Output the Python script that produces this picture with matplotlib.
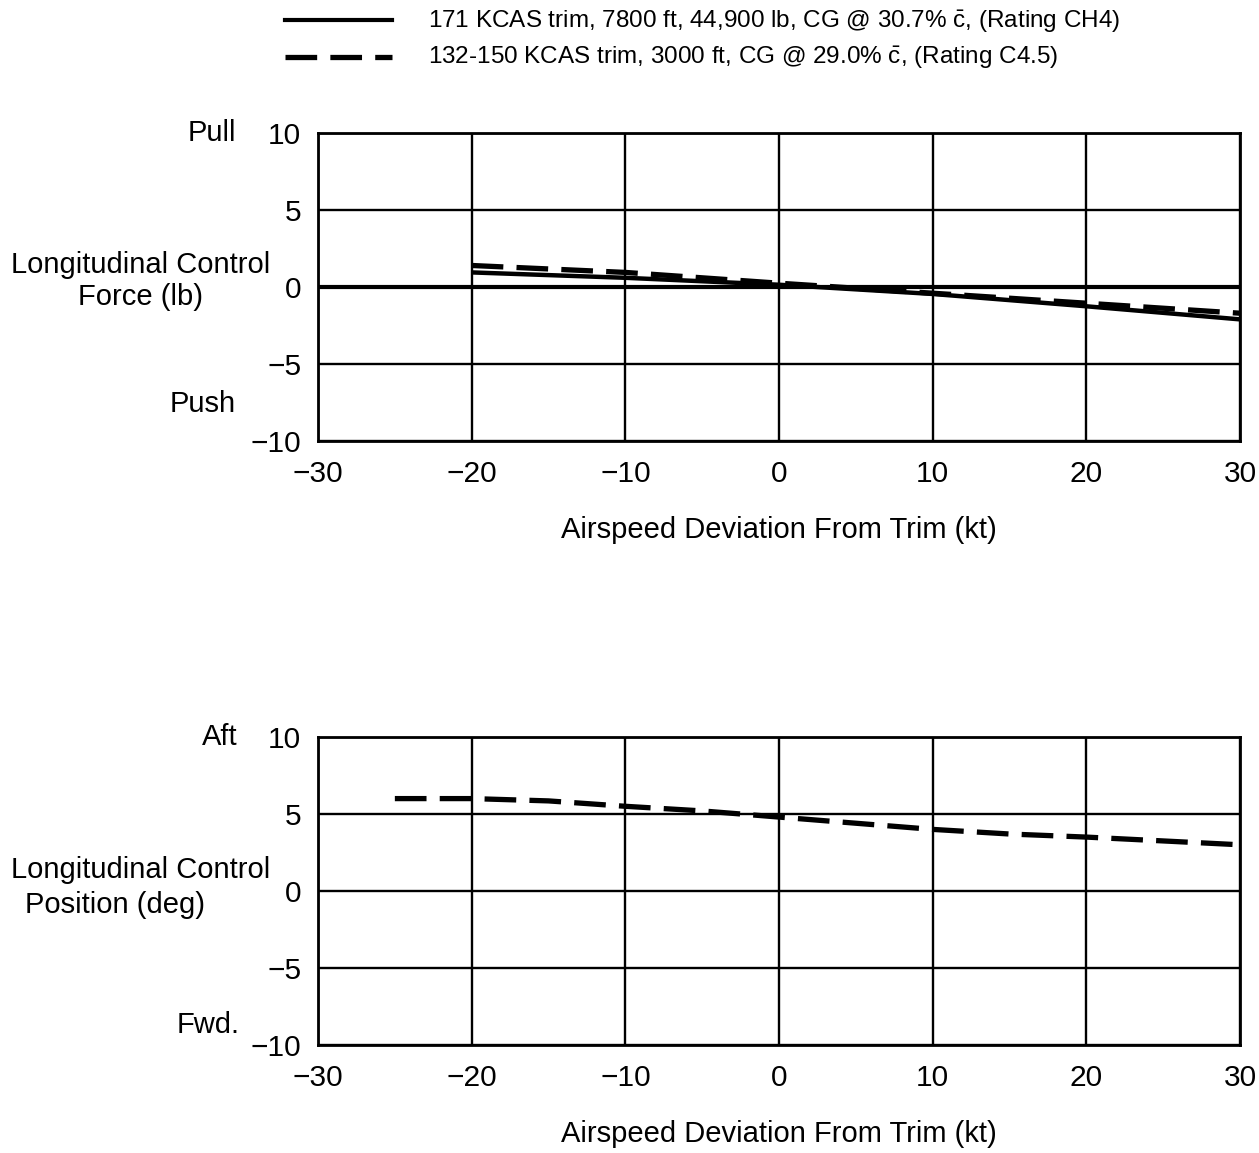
import matplotlib
matplotlib.use("Agg")
import matplotlib.pyplot as plt

plt.rcParams['font.family'] = ['Liberation Sans', 'DejaVu Sans']
plt.rcParams['mathtext.fontset'] = 'custom'
plt.rcParams['mathtext.rm'] = 'Liberation Sans'
plt.rcParams['mathtext.it'] = 'Liberation Sans'

# Data
force_x = [-20, -10, 0, 10, 20, 30]
force_solid = [0.95, 0.6, 0.15, -0.45, -1.25, -2.1]
force_dashed = [1.4, 0.95, 0.25, -0.4, -1.05, -1.7]

pos_x = [-25, -20, -15, -10, -5, 0, 5, 10, 15, 20, 25, 30]
pos_dashed = [6.0, 6.0, 5.85, 5.5, 5.2, 4.8, 4.4, 4.0, 3.7, 3.5, 3.25, 3.0]

xticks = [-30, -20, -10, 0, 10, 20, 30]
yticks = [-10, -5, 0, 5, 10]

legend_labels = [
    r"171 KCAS trim, 7800 ft, 44,900 lb, CG @ 30.7% $\bar{\mathrm{c}}$, (Rating CH4)",
    r"132-150 KCAS trim, 3000 ft, CG @ 29.0% $\bar{\mathrm{c}}$, (Rating C4.5)",
]

fig = plt.figure(figsize=(12.59, 11.53), dpi=100)

FS = 21
TFS = 21.5
DASH = (0, (6, 2.5))

def style(ax):
    ax.set_xlim(-30, 30)
    ax.set_ylim(-10, 10)
    ax.set_xticks(xticks)
    ax.set_yticks(yticks)
    ax.set_xticklabels([str(v).replace('-', '\u2212') for v in xticks], fontsize=TFS)
    ax.set_yticklabels([str(v).replace('-', '\u2212') for v in yticks], fontsize=TFS)
    ax.tick_params(axis='y', length=0, pad=12)
    ax.tick_params(axis='x', length=0, pad=14)
    ax.grid(True, color='black', linewidth=1.7)
    for s in ax.spines.values():
        s.set_linewidth(2)
        s.set_color('black')
    ax.set_xlabel("Airspeed Deviation From Trim (kt)", fontsize=FS, labelpad=20)

ax1 = fig.add_axes([0.2526, 0.6175, 0.7323, 0.2671])
style(ax1)
ax1.axhline(0, color='black', linewidth=3)
ax1.plot(force_x, force_solid, color='black', linewidth=3.2, solid_capstyle='butt')
ax1.plot(force_x, force_dashed, color='black', linewidth=3.8, linestyle=DASH)

ax2 = fig.add_axes([0.2526, 0.0937, 0.7323, 0.2671])
style(ax2)
ax2.plot(pos_x, pos_dashed, color='black', linewidth=3.8, linestyle=DASH)

# Side labels (figure pixel coords from top)
def ftext(xp, yp, s, ha='center'):
    fig.text(xp / 1259, 1 - yp / 1153, s, fontsize=FS, ha=ha, va='center')

ftext(236, 133, "Pull", ha='right')
ftext(236, 404, "Push", ha='right')
ftext(141, 265, "Longitudinal Control")
ftext(141, 297, "Force (lb)")
ftext(238, 737, "Aft", ha='right')
ftext(240, 1025, "Fwd.", ha='right')
ftext(141, 870, "Longitudinal Control")
ftext(115, 905, "Position (deg)")

# Legend at top
leg_ax = fig.add_axes([0, 0.93, 1, 0.07])
leg_ax.set_xlim(0, 1259)
leg_ax.axis('off')
leg_ax.set_ylim(1153 * 0.07, 0)
leg_ax.plot([285, 392], [20, 20], color='black', linewidth=3)
leg_ax.plot([285, 392], [57, 57], color='black', linewidth=3.8, linestyle=DASH)
leg_ax.text(428, 22, legend_labels[0], fontsize=17.5, va='center', ha='left')
leg_ax.text(428, 58, legend_labels[1], fontsize=17.5, va='center', ha='left')

fig.savefig("out.png", dpi=100)
